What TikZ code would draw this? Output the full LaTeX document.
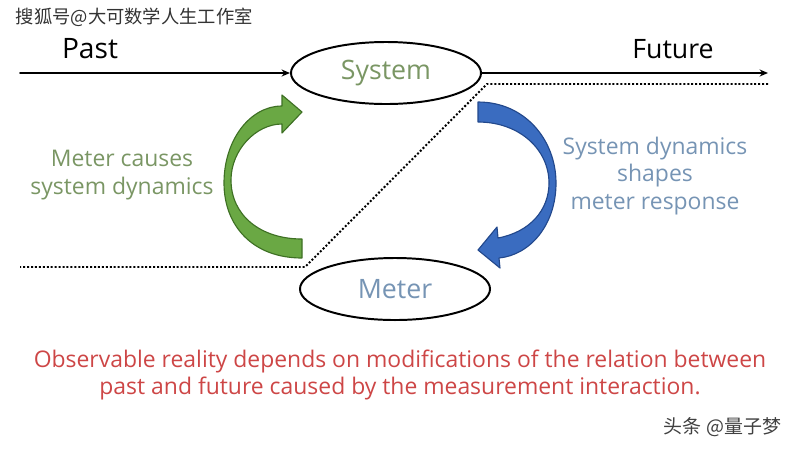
\documentclass[tikz,border=0pt]{standalone}
\usepackage{fontspec}
\setmainfont{Open Sans}
\newfontfamily\cjk{Noto Sans CJK SC}
\usetikzlibrary{shapes.geometric,arrows.meta}
\definecolor{sysgreen}{RGB}{122,150,100}
\definecolor{metblue}{RGB}{118,148,180}
\definecolor{arrgreen}{RGB}{106,168,68}
\definecolor{arrgreenD}{RGB}{62,112,36}
\definecolor{arrblue}{RGB}{58,108,192}
\definecolor{arrblueD}{RGB}{34,72,140}
\definecolor{notered}{RGB}{205,70,70}
\begin{document}
\begin{tikzpicture}[x=0.025cm, y=-0.025cm, line cap=round, line join=round, >={Stealth[length=6pt,width=5pt]}]
	\tikzset{state/.style={ellipse, draw, line width=1.4pt, minimum width=4.75cm, minimum height=1.55cm, inner sep=0pt, font=\fontsize{19}{22}\selectfont},
		sidetext/.style={align=center, font=\fontsize{16.3}{19.8}\selectfont},
		timeline/.style={line width=1.4pt},
		cutline/.style={line width=1.4pt, line cap=butt, dash pattern=on 1.4pt off 1.4pt}}
	\useasboundingbox (0,0) rectangle (800,450);
	% watermarks
	\node[anchor=west, font=\cjk\fontsize{13}{16}\selectfont, text=black!80] (mark1) at (11,17) {搜狐号@大可数学人生工作室};
	\node[anchor=east, font=\cjk\fontsize{13.5}{16}\selectfont, text=black!75] (mark2) at (786,427) {头条 @量子梦};
	% system and meter
	\node[state, text=sysgreen] (sys) at (386,73) {System};
	\node[state, text=metblue] (met) at (395,289) {Meter};
	\node[font=\fontsize{20}{22}\selectfont] (past) at (90,49) {Past};
	\node[font=\fontsize{19}{22}\selectfont] (future) at (673,49) {Future};
	\coordinate (pastL) at (20,73);
	\coordinate (futR) at (768,73);
	\draw[timeline,->] (pastL) -- (sys.west);
	\draw[timeline,->] (sys.east) -- (futR);
	% cut between past and future
	\coordinate (cutA) at (768,84);
	\coordinate (cutB) at (487,84);
	\coordinate (cutC) at (305,267);
	\coordinate (cutD) at (20,267);
	\draw[cutline] (cutA) -- (cutB) -- (cutC) -- (cutD);
	% curved arrows
	\fill[arrgreen, draw=arrgreenD, line width=0.8pt] (302,258) .. controls (252,258) and (224,225) .. (224,183)
		.. controls (224,140) and (250,106) .. (282,106) -- (282,95) -- (302,112) -- (282,133) -- (282,124)
		.. controls (256,124) and (231,150) .. (231,180) .. controls (231,215) and (260,239) .. (302,239) -- cycle;
	\fill[arrblue, draw=arrblueD, line width=0.8pt] (478,102) .. controls (525,102) and (556,140) .. (556,183)
		.. controls (556,225) and (530,255) .. (499,258) -- (500,268) -- (478,250) -- (497,227) -- (498,238)
		.. controls (530,232) and (549,210) .. (549,183) .. controls (549,150) and (520,122) .. (478,122) -- cycle;
	\node[sidetext, text=sysgreen] (cause) at (122,175) {Meter causes\\system dynamics};
	\node[sidetext, text=metblue] (shape) at (655,176) {System dynamics\\shapes\\meter response};
	\node[align=center, text=notered, font=\fontsize{16.3}{19.5}\selectfont] (note) at (400,375) {Observable reality depends on modifications of the relation between\\past and future caused by the measurement interaction.};
\end{tikzpicture}
\end{document}
